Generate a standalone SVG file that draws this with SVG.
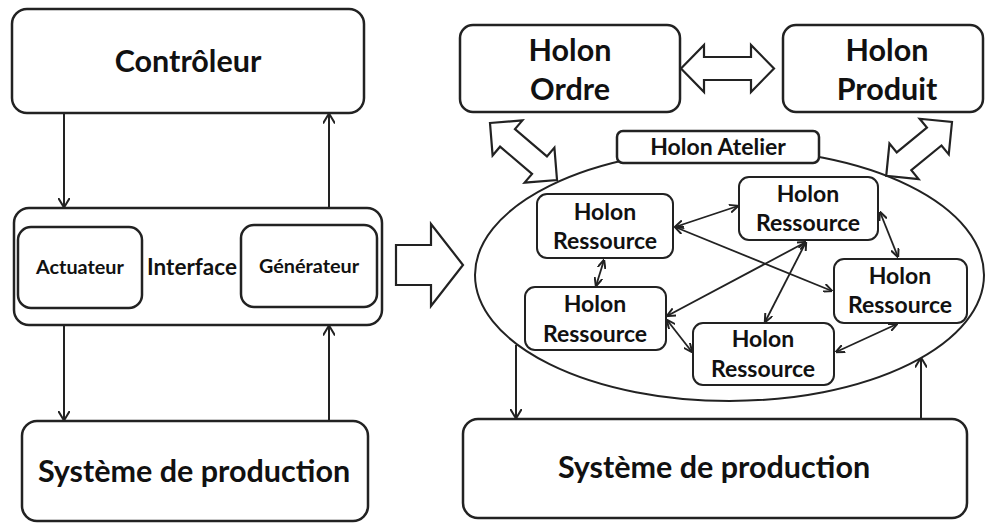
<svg xmlns="http://www.w3.org/2000/svg" width="986" height="523" viewBox="0 0 986 523">
<defs>
<style>
.box{fill:#fff;stroke:#222;stroke-width:2.5}
.sbox{fill:#fff;stroke:#222;stroke-width:2}
.blk{fill:#fff;stroke:#222;stroke-width:2.2;stroke-linejoin:miter}
.t{font-family:Lato,"Open Sans","Liberation Sans",sans-serif;font-weight:bold;fill:#111;text-anchor:middle}
.t29{font-size:30.5px}
.t22{font-size:23px}
.t21{font-size:22.5px}
.t19{font-size:19.8px}
.ln{stroke:#222;stroke-width:2;fill:none}
.ln2{stroke:#222;stroke-width:1.8;fill:none}
</style>
<marker id="ah" viewBox="0 0 10 12" refX="9.5" refY="6" markerWidth="10" markerHeight="12" markerUnits="userSpaceOnUse" orient="auto-start-reverse">
<path d="M0,0 L10,6 L0,12" fill="none" stroke="#222" stroke-width="2"/>
</marker>
<marker id="as" viewBox="0 0 10 10" refX="9.5" refY="5" markerWidth="9" markerHeight="9" markerUnits="userSpaceOnUse" orient="auto-start-reverse">
<path d="M0,0.5 L10,5 L0,9.5" fill="none" stroke="#222" stroke-width="2.2"/>
</marker>
</defs>
<rect width="986" height="523" fill="#fff"/>

<g id="controleur">
<rect class="box" x="12" y="9" width="352" height="104" rx="15"/>
<text class="t t29" x="188" y="72">Contrôleur</text>
</g>
<g id="interface">
<rect class="box" x="14" y="208" width="368" height="117" rx="15"/>
<text class="t t21" x="192" y="275">Interface</text>
</g>
<g id="actuateur">
<rect class="box" x="18" y="227" width="124" height="81" rx="13"/>
<text class="t t19" x="80" y="274">Actuateur</text>
</g>
<g id="generateur">
<rect class="box" x="241" y="225" width="136" height="82" rx="13"/>
<text class="t t19" x="309" y="273">Générateur</text>
</g>
<g id="systeme-gauche">
<rect class="box" x="22" y="421" width="346" height="100" rx="15"/>
<text class="t t29" x="194" y="482">Système de production</text>
</g>

<g id="fleche-transition">
<polygon class="blk" points="396,245 431,245 431,224 463,265 431,306 431,285 396,285"/>
</g>

<g id="holon-atelier">
<ellipse cx="729.5" cy="275" rx="254.5" ry="126" fill="#fff" stroke="#222" stroke-width="2"/>
<rect class="box" x="617" y="131" width="202" height="32" rx="6"/>
<text class="t t22" x="718" y="155">Holon Atelier</text>
</g>
<g id="holon-ordre">
<rect class="box" x="460" y="25" width="220" height="87" rx="13"/>
<text class="t t29" x="570" y="61">Holon</text>
<text class="t t29" x="570" y="100">Ordre</text>
</g>
<g id="holon-produit">
<rect class="box" x="783" y="25" width="200" height="87" rx="13"/>
<text class="t t29" x="887" y="61">Holon</text>
<text class="t t29" x="887" y="100">Produit</text>
</g>
<g id="ressource-1">
<rect class="sbox" x="537" y="194" width="136" height="64" rx="10"/>
<text class="t t22" x="605" y="220">Holon</text>
<text class="t t22" x="605" y="249">Ressource</text>
</g>
<g id="ressource-2">
<rect class="sbox" x="739" y="177" width="139" height="63" rx="10"/>
<text class="t t22" x="808" y="202">Holon</text>
<text class="t t22" x="808" y="231">Ressource</text>
</g>
<g id="ressource-3">
<rect class="sbox" x="834" y="259" width="133" height="64" rx="10"/>
<text class="t t22" x="900" y="284">Holon</text>
<text class="t t22" x="900" y="313">Ressource</text>
</g>
<g id="ressource-4">
<rect class="sbox" x="525" y="287" width="141" height="63" rx="10"/>
<text class="t t22" x="595" y="312">Holon</text>
<text class="t t22" x="595" y="342">Ressource</text>
</g>
<g id="ressource-5">
<rect class="sbox" x="693" y="323" width="141" height="62" rx="10"/>
<text class="t t22" x="763" y="347">Holon</text>
<text class="t t22" x="763" y="377">Ressource</text>
</g>
<g id="systeme-droite">
<rect class="box" x="463" y="419" width="504" height="99" rx="15"/>
<text class="t t29" x="714" y="478">Système de production</text>
</g>

<g id="connecteurs">
<line class="ln" x1="64" y1="113" x2="64" y2="207" marker-end="url(#ah)"/>
<line class="ln" x1="329" y1="208" x2="329" y2="114" marker-end="url(#ah)"/>
<line class="ln" x1="64" y1="325" x2="64" y2="420" marker-end="url(#ah)"/>
<line class="ln" x1="329" y1="421" x2="329" y2="326" marker-end="url(#ah)"/>
<line class="ln" x1="516" y1="345" x2="516" y2="418" marker-end="url(#ah)"/>
<line class="ln" x1="921" y1="419" x2="921" y2="358" marker-end="url(#ah)"/>
<polygon class="blk" points="681,68.5 704,45 704,57 751,57 751,45 774,68.5 751,92 751,80 704,80 704,92"/>
<polygon class="blk" transform="translate(490,123) rotate(40.4)" points="0,0 23,-23 23,-11.5 65,-11.5 65,-23 88,0 65,23 65,11.5 23,11.5 23,23"/>
<polygon class="blk" transform="translate(952,122) rotate(140.7)" points="0,0 23,-23 23,-11.5 62,-11.5 62,-23 85,0 62,23 62,11.5 23,11.5 23,23"/>
<line class="ln2" x1="675" y1="227" x2="738" y2="206" marker-start="url(#as)" marker-end="url(#as)"/>
<line class="ln2" x1="675" y1="227" x2="832" y2="291" marker-start="url(#as)" marker-end="url(#as)"/>
<line class="ln2" x1="604" y1="260" x2="596" y2="286" marker-start="url(#as)" marker-end="url(#as)"/>
<line class="ln2" x1="806" y1="242" x2="667" y2="316" marker-start="url(#as)" marker-end="url(#as)"/>
<line class="ln2" x1="806" y1="242" x2="765" y2="322" marker-start="url(#as)" marker-end="url(#as)"/>
<line class="ln2" x1="880" y1="212" x2="898" y2="257" marker-start="url(#as)" marker-end="url(#as)"/>
<line class="ln2" x1="667" y1="320" x2="692" y2="352" marker-start="url(#as)" marker-end="url(#as)"/>
<line class="ln2" x1="897" y1="324" x2="836" y2="352" marker-start="url(#as)" marker-end="url(#as)"/>
</g>
</svg>
